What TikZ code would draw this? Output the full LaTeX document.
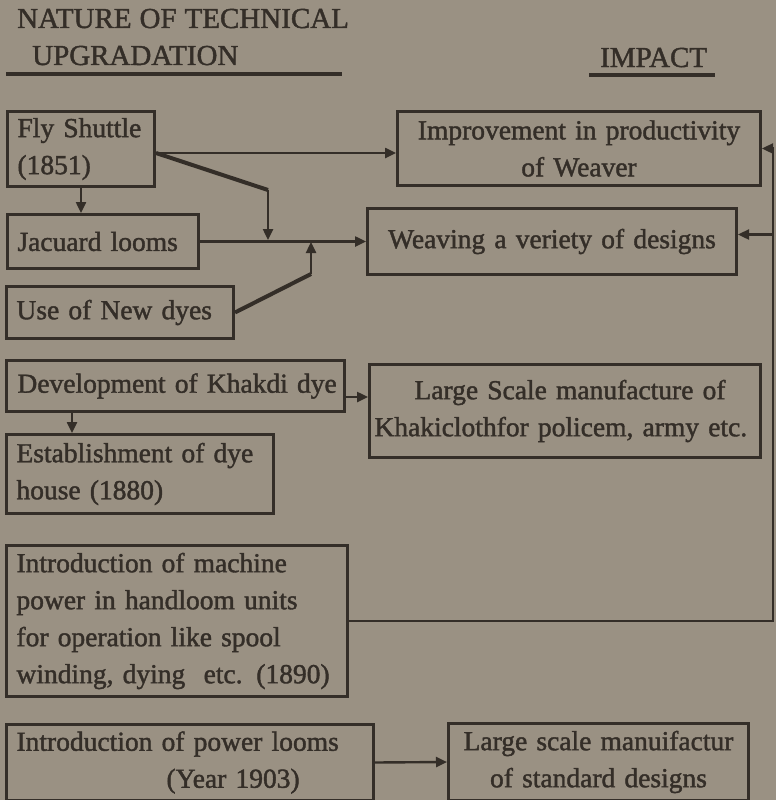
\documentclass[tikz,border=0pt]{standalone}
\usepackage{fontspec}
\setmainfont{Liberation Serif}
\newfontfamily\inkfont{Liberation Serif}[WordSpace=1.1,FakeBold=1.5]
\usetikzlibrary{arrows.meta}
\definecolor{paper}{RGB}{154,145,131}
\definecolor{ink}{RGB}{52,46,40}
\begin{document}
\begin{tikzpicture}[x=1pt,y=-1pt,
  every node/.style={text=ink,font=\inkfont\fontsize{27.5}{37}\selectfont},
  head/.style={anchor=base west,inner sep=0pt,font=\inkfont\fontsize{29}{37}\selectfont},
  box/.style={draw=ink,line width=3pt,anchor=north west,inner xsep=10pt,inner ysep=0pt,outer sep=1.5pt},
  lbox/.style={box,align=left},
  cbox/.style={box,align=center},
  conn/.style={draw=ink,line width=2.4pt},
  arr/.style={conn,-{Triangle[length=11pt,width=10pt]}},
  heavy/.style={draw=ink,line width=4pt,line join=miter}]
\fill[paper] (0,0) rectangle (776,800);
\useasboundingbox (0,0) rectangle (776,800);
% headings
\node[head] (h1) at (17,28) {NATURE OF TECHNICAL};
\node[head] (h2) at (32,65) {UPGRADATION};
\node[head] (h3) at (600,67) {IMPACT};
\draw[ink,line width=3.2pt] (6,74) -- (342,74);
\draw[ink,line width=3.2pt] (589,75) -- (715,75);
% boxes
\node[lbox,minimum width=147pt,minimum height=75pt,text width=127pt] (fly) at (6,110) {Fly Shuttle\\(1851)};
\node[cbox,minimum width=363pt,minimum height=74pt,text width=343pt] (imp) at (396,110) {Improvement in productivity\\of Weaver};
\node[lbox,minimum width=191pt,minimum height=54pt,text width=171pt] (jac) at (6,213) {Jacuard looms};
\node[lbox,minimum width=227pt,minimum height=52pt,text width=207pt] (dyes) at (5,285) {Use of New dyes};
\node[cbox,minimum width=369pt,minimum height=66pt,text width=349pt] (weav) at (366,207) {Weaving a veriety of designs};
\node[lbox,minimum width=338pt,minimum height=51pt,text width=330pt,inner xsep=4pt] (khak) at (5,359) {\hspace*{7pt}Development of Khakdi dye};
\node[lbox,minimum width=391pt,minimum height=93pt,text width=381pt,inner xsep=5pt] (large) at (368,363) {\hspace*{40pt}Large Scale manufacture of\\Khakiclothfor policem, army etc.};
\node[lbox,minimum width=267pt,minimum height=79pt,text width=247pt] (est) at (5,433) {Establishment of dye\\house (1880)};
\node[lbox,minimum width=341pt,minimum height=151pt,text width=321pt] (mach) at (5,544) {Introduction of machine\\power in handloom units\\for operation like spool\\winding, dying~~etc. (1890)};
\node[lbox,minimum width=367pt,minimum height=76pt,text width=347pt] (pow) at (5,723) {Introduction of power looms\\\hspace*{150pt}(Year 1903)};
\node[cbox,minimum width=300pt,minimum height=77pt,text width=280pt] (std) at (447,722) {Large scale manuifactur\\of standard designs};
% helper coordinates
\coordinate (y153) at (0,153);
\coordinate (b1) at (268,190);
\coordinate (j1) at (268,240);
\coordinate (b2) at (311,274);
\coordinate (j2) at (311,242);
\coordinate (rt) at (773,0);
\coordinate (y397) at (0,397);
% connectors
\draw[arr] (fly.east |- y153) -- (imp.west |- y153);
\draw[heavy] (fly.east |- y153) -- (b1);
\draw[arr] (b1) -- (j1);
\draw[arr] (fly.south) -- (fly.south |- jac.north);
\draw[arr] (jac.east) -- (weav.west |- jac.east);
\draw[heavy] (dyes.east) -- (b2);
\draw[arr] (b2) -- (j2);
\draw[arr] (khak.east |- y397) -- (large.west |- y397);
\draw[arr] ([xshift=67pt]khak.south west) coordinate (k1) -- (k1 |- est.north);
\draw[arr] (mach.east) -| (rt |- imp.east) -- (imp.east);
\draw[arr] ([yshift=7pt]weav.east -| rt) -- ([yshift=7pt]weav.east);
\draw[arr] (pow.east) -- (std.west);
\end{tikzpicture}
\end{document}
